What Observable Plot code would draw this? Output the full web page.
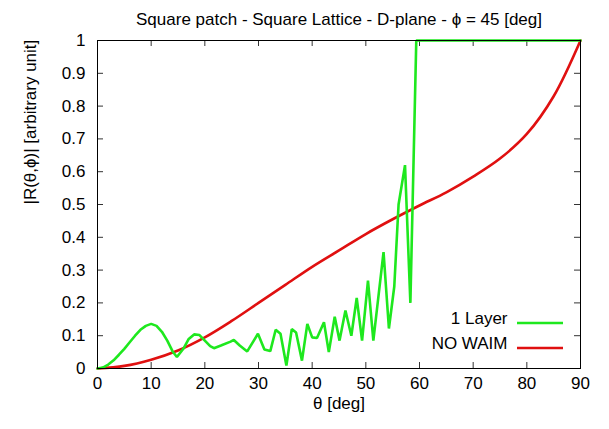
<!DOCTYPE html>
<html>
<head>
<meta charset="utf-8">
<script src="https://cdn.jsdelivr.net/npm/d3@7"></script>
<script src="https://cdn.jsdelivr.net/npm/@observablehq/plot@0.6"></script>
<style>
  html, body { margin: 0; padding: 0; background: #fff; }
  svg { display: block; }
</style>
</head>
<body>
<div id="chart"></div>
<script>
// ---- data ----
const titleText = "Square patch - Square Lattice - D-plane - \u03D5 = 45 [deg]";
const xLabel = "\u03B8 [deg]";
const yLabel = "|R(\u03B8,\u03D5)| [arbitrary unit]";
const seriesNames = ["1 Layer", "NO WAIM"];
const seriesColors = ["#1ee81e", "#e01010"];

const xTicks = [0, 10, 20, 30, 40, 50, 60, 70, 80, 90];
const yTicks = [0, 0.1, 0.2, 0.3, 0.4, 0.5, 0.6, 0.7, 0.8, 0.9, 1];

const layerTheta = [0, 1, 2, 3, 4, 5, 6, 7, 8, 9, 10, 11, 12, 13, 14, 14.8, 16, 17, 18, 19, 20, 21, 21.7, 23, 24.8, 25.4, 26.5, 27.9, 29.9, 31.1, 32.2, 33.2, 34.1, 35.2, 36.2, 37.0, 38.1, 39.1, 40.0, 40.9, 42.2, 43.1, 44.2, 45.1, 46.2, 47.3, 48.3, 49.3, 50.4, 51.4, 53.3, 54.3, 55.3, 56.1, 57.3, 58.3, 59.4, 90];
const layerValue = [0, 0.003, 0.012, 0.025, 0.042, 0.06, 0.08, 0.1, 0.118, 0.13, 0.136, 0.13, 0.112, 0.085, 0.052, 0.035, 0.06, 0.09, 0.104, 0.102, 0.085, 0.068, 0.062, 0.07, 0.082, 0.087, 0.07, 0.052, 0.106, 0.058, 0.053, 0.118, 0.106, 0.009, 0.12, 0.11, 0.024, 0.136, 0.095, 0.093, 0.141, 0.05, 0.158, 0.085, 0.177, 0.1, 0.215, 0.085, 0.268, 0.085, 0.355, 0.122, 0.25, 0.5, 0.62, 0.2, 1.0, 1.0];

const noWaimTheta = [0, 5, 10, 15, 20, 25, 30, 35, 40, 45, 50, 55, 60, 65, 70, 75, 80, 85, 90];
const noWaimValue = [0, 0.008, 0.027, 0.055, 0.095, 0.145, 0.2, 0.255, 0.31, 0.36, 0.41, 0.455, 0.497, 0.537, 0.585, 0.64, 0.715, 0.83, 1.0];

// ---- build ----
const layerData = layerTheta.map((t, i) => ({theta: t, value: layerValue[i]}));
const noWaimData = noWaimTheta.map((t, i) => ({theta: t, value: noWaimValue[i]}));

const W = 609, H = 429;
const mL = 97, mR = 29, mT = 40, mB = 61;
const fw = W - mL - mR, fh = H - mT - mB;
const font = "'Liberation Sans', Arial, Helvetica, sans-serif";
const fs = 17;

const plot = Plot.plot({
  width: W,
  height: H,
  marginLeft: mL,
  marginRight: mR,
  marginTop: mT,
  marginBottom: mB,
  style: {fontFamily: font, fontSize: fs + "px", color: "#000", background: "#fff"},
  x: {domain: [0, 90]},
  y: {domain: [0, 1]},
  marks: [
    Plot.axisX({ticks: xTicks, tickSize: 0, tickPadding: 8, label: null, fontSize: fs}),
    Plot.axisY({ticks: yTicks, tickSize: 0, tickPadding: 12, label: null, fontSize: fs, tickFormat: d => String(+d.toFixed(1))}),
    // inward ticks (gnuplot style, mirrored)
    Plot.tickX(xTicks, {x: d => d, insetTop: fh - 6, stroke: "#333", strokeWidth: 1}),
    Plot.tickX(xTicks, {x: d => d, insetBottom: fh - 6, stroke: "#333", strokeWidth: 1}),
    Plot.tickY(yTicks, {y: d => d, insetRight: fw - 6, stroke: "#333", strokeWidth: 1}),
    Plot.tickY(yTicks, {y: d => d, insetLeft: fw - 6, stroke: "#333", strokeWidth: 1}),
    Plot.line(noWaimData, {x: "theta", y: "value", stroke: seriesColors[1], strokeWidth: 2.6, curve: "catmull-rom"}),
    Plot.line(layerData, {x: "theta", y: "value", stroke: seriesColors[0], strokeWidth: 2.6, strokeLinejoin: "miter"}),
    Plot.frame({stroke: "#000", strokeWidth: 1}),
    Plot.text([titleText], {frameAnchor: "top", dy: -28, text: d => d, fontSize: fs}),
    Plot.text([xLabel], {frameAnchor: "bottom", dy: 40, text: d => d, fontSize: fs}),
    Plot.text([yLabel], {frameAnchor: "left", dx: -67, rotate: -90, text: d => d, fontSize: fs}),
    Plot.text([seriesNames[0]], {frameAnchor: "bottom-right", dx: -73, dy: -45, textAnchor: "end", text: d => d, fontSize: fs}),
    Plot.text([seriesNames[1]], {frameAnchor: "bottom-right", dx: -73, dy: -20, textAnchor: "end", text: d => d, fontSize: fs})
  ]
});

// legend swatches
const svg = d3.select(plot);
const legendRows = [45, 20];
seriesColors.forEach((c, i) => {
  svg.append("line")
    .attr("x1", W - mR - 63).attr("x2", W - mR - 17)
    .attr("y1", H - mB - legendRows[i]).attr("y2", H - mB - legendRows[i])
    .attr("stroke", c).attr("stroke-width", 2.6);
});

document.getElementById("chart").appendChild(plot);
</script>
</body>
</html>
